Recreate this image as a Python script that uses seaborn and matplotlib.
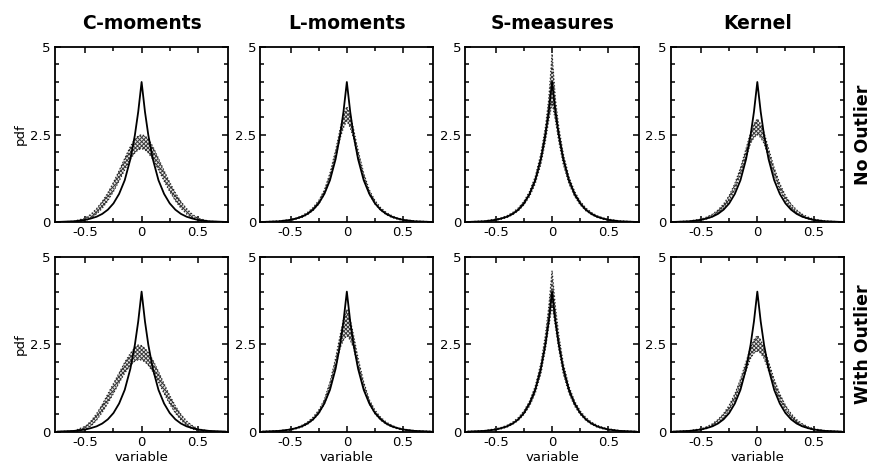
import numpy as np
import pandas as pd
import matplotlib
matplotlib.use('Agg')
import matplotlib.pyplot as plt
import seaborn as sns

x_grid = [-0.75, -0.6, -0.5, -0.45, -0.4, -0.35, -0.3, -0.25, -0.2, -0.15, -0.1, -0.06, -0.03, 0,
          0.03, 0.06, 0.1, 0.15, 0.2, 0.25, 0.3, 0.35, 0.4, 0.45, 0.5, 0.6, 0.75]

# true (Laplace-like) pdf, solid line in every panel
true_pdf = [0.01, 0.03, 0.07, 0.11, 0.16, 0.24, 0.36, 0.54, 0.81, 1.2, 1.8, 2.48, 3.15, 4.0,
            3.15, 2.48, 1.8, 1.2, 0.81, 0.54, 0.36, 0.24, 0.16, 0.11, 0.07, 0.03, 0.01]

methods = ['C-moments', 'L-moments', 'S-measures', 'Kernel']
rows = ['No Outlier', 'With Outlier']

# estimated pdf envelopes (lower / upper), no outlier
cmom_no_lo = [0.0, 0.0, 0.05, 0.12, 0.24, 0.4, 0.62, 0.88, 1.18, 1.5, 1.8, 1.98, 2.07, 2.1,
              2.07, 1.98, 1.8, 1.5, 1.18, 0.88, 0.62, 0.4, 0.24, 0.12, 0.05, 0.0, 0.0]
cmom_no_hi = [0.01, 0.03, 0.12, 0.23, 0.39, 0.59, 0.84, 1.14, 1.47, 1.82, 2.16, 2.37, 2.46, 2.5,
              2.46, 2.37, 2.16, 1.82, 1.47, 1.14, 0.84, 0.59, 0.39, 0.23, 0.12, 0.03, 0.01]
lmom_no_lo = [0.0, 0.02, 0.05, 0.09, 0.14, 0.22, 0.34, 0.52, 0.8, 1.25, 1.85, 2.4, 2.7, 2.9,
              2.7, 2.4, 1.85, 1.25, 0.8, 0.52, 0.34, 0.22, 0.14, 0.09, 0.05, 0.02, 0.0]
lmom_no_hi = [0.015, 0.04, 0.08, 0.12, 0.19, 0.28, 0.42, 0.62, 0.92, 1.4, 2.05, 2.65, 3.05, 3.3,
              3.05, 2.65, 2.05, 1.4, 0.92, 0.62, 0.42, 0.28, 0.19, 0.12, 0.08, 0.04, 0.015]
smea_no_lo = [0.0, 0.02, 0.06, 0.09, 0.14, 0.22, 0.33, 0.5, 0.74, 1.1, 1.65, 2.3, 2.9, 3.4,
              2.9, 2.3, 1.65, 1.1, 0.74, 0.5, 0.33, 0.22, 0.14, 0.09, 0.06, 0.02, 0.0]
smea_no_hi = [0.015, 0.04, 0.09, 0.13, 0.19, 0.28, 0.41, 0.6, 0.88, 1.3, 1.95, 2.7, 3.5, 4.8,
              3.5, 2.7, 1.95, 1.3, 0.88, 0.6, 0.41, 0.28, 0.19, 0.13, 0.09, 0.04, 0.015]
kern_no_lo = [0.0, 0.02, 0.06, 0.1, 0.16, 0.26, 0.4, 0.62, 0.92, 1.35, 1.85, 2.25, 2.42, 2.5,
              2.42, 2.25, 1.85, 1.35, 0.92, 0.62, 0.4, 0.26, 0.16, 0.1, 0.06, 0.02, 0.0]
kern_no_hi = [0.01, 0.04, 0.09, 0.15, 0.23, 0.35, 0.52, 0.76, 1.1, 1.55, 2.1, 2.55, 2.8, 2.95,
              2.8, 2.55, 2.1, 1.55, 1.1, 0.76, 0.52, 0.35, 0.23, 0.15, 0.09, 0.04, 0.01]

# estimated pdf envelopes (lower / upper), with outlier
cmom_out_lo = [0.0, 0.0, 0.07, 0.17, 0.34, 0.56, 0.82, 1.1, 1.4, 1.68, 1.9, 2.02, 2.06, 2.05,
               2.0, 1.9, 1.72, 1.42, 1.1, 0.8, 0.54, 0.34, 0.19, 0.09, 0.03, 0.0, 0.0]
cmom_out_hi = [0.01, 0.03, 0.16, 0.31, 0.52, 0.78, 1.08, 1.38, 1.68, 1.98, 2.24, 2.4, 2.48, 2.46,
               2.38, 2.26, 2.05, 1.72, 1.37, 1.04, 0.74, 0.5, 0.31, 0.18, 0.09, 0.02, 0.01]
lmom_out_lo = [0.0, 0.02, 0.05, 0.09, 0.14, 0.22, 0.34, 0.52, 0.8, 1.25, 1.85, 2.4, 2.62, 2.75,
               2.62, 2.4, 1.85, 1.25, 0.8, 0.52, 0.34, 0.22, 0.14, 0.09, 0.05, 0.02, 0.0]
lmom_out_hi = [0.015, 0.04, 0.08, 0.12, 0.19, 0.28, 0.42, 0.62, 0.92, 1.42, 2.1, 2.75, 3.2, 3.5,
               3.2, 2.75, 2.1, 1.42, 0.92, 0.62, 0.42, 0.28, 0.19, 0.12, 0.08, 0.04, 0.015]
smea_out_lo = [0.0, 0.02, 0.06, 0.09, 0.14, 0.22, 0.33, 0.5, 0.74, 1.1, 1.65, 2.35, 3.0, 3.6,
               3.0, 2.35, 1.65, 1.1, 0.74, 0.5, 0.33, 0.22, 0.14, 0.09, 0.06, 0.02, 0.0]
smea_out_hi = [0.015, 0.04, 0.09, 0.13, 0.19, 0.28, 0.41, 0.6, 0.88, 1.3, 1.95, 2.75, 3.55, 4.6,
               3.55, 2.75, 1.95, 1.3, 0.88, 0.6, 0.41, 0.28, 0.19, 0.13, 0.09, 0.04, 0.015]
kern_out_lo = [0.0, 0.02, 0.06, 0.1, 0.16, 0.26, 0.4, 0.62, 0.9, 1.3, 1.75, 2.1, 2.25, 2.3,
               2.25, 2.1, 1.75, 1.3, 0.9, 0.62, 0.4, 0.26, 0.16, 0.1, 0.06, 0.02, 0.0]
kern_out_hi = [0.01, 0.04, 0.09, 0.15, 0.23, 0.35, 0.52, 0.76, 1.08, 1.5, 2.0, 2.4, 2.62, 2.75,
               2.62, 2.4, 2.0, 1.5, 1.08, 0.76, 0.52, 0.35, 0.23, 0.15, 0.09, 0.04, 0.01]

bands = {
    ('No Outlier', 'C-moments'): (cmom_no_lo, cmom_no_hi),
    ('No Outlier', 'L-moments'): (lmom_no_lo, lmom_no_hi),
    ('No Outlier', 'S-measures'): (smea_no_lo, smea_no_hi),
    ('No Outlier', 'Kernel'): (kern_no_lo, kern_no_hi),
    ('With Outlier', 'C-moments'): (cmom_out_lo, cmom_out_hi),
    ('With Outlier', 'L-moments'): (lmom_out_lo, lmom_out_hi),
    ('With Outlier', 'S-measures'): (smea_out_lo, smea_out_hi),
    ('With Outlier', 'Kernel'): (kern_out_lo, kern_out_hi),
}

sns.set_theme(style='ticks')
plt.rcParams['font.family'] = ['DejaVu Sans']
plt.rcParams['text.color'] = 'black'
plt.rcParams['axes.labelcolor'] = 'black'
plt.rcParams['xtick.color'] = 'black'
plt.rcParams['ytick.color'] = 'black'
plt.rcParams['hatch.linewidth'] = 0.7
plt.rcParams['hatch.color'] = '#3a3a3a'

fig, axes = plt.subplots(2, 4, figsize=(8.8, 4.69), dpi=100)
fig.subplots_adjust(left=0.0625, right=0.959, top=0.9, bottom=0.079, wspace=0.185, hspace=0.195)

true_df = pd.DataFrame({'variable': x_grid, 'pdf': true_pdf})

for i, row in enumerate(rows):
    for j, method in enumerate(methods):
        ax = axes[i, j]
        lo, hi = bands[(row, method)]
        ax.fill_between(x_grid, lo, hi, facecolor='#e6e6e6', edgecolor='#3a3a3a',
                        hatch='xxxxxxxx', linewidth=0)
        ax.plot(x_grid, lo, color='#222222', lw=0.9, ls=':')
        ax.plot(x_grid, hi, color='#222222', lw=0.9, ls=':')
        sns.lineplot(data=true_df, x='variable', y='pdf', ax=ax, color='black', lw=1.3)

        ax.set_xlim(-0.77, 0.77)
        ax.set_ylim(0, 5)
        ax.set_xticks([-0.5, 0, 0.5])
        ax.set_xticklabels(['-0.5', '0', '0.5'])
        ax.set_xticks([-0.25, 0.25], minor=True)
        ax.set_yticks([0, 2.5, 5])
        ax.set_yticklabels(['0', '2.5', '5'])
        ax.set_yticks(np.arange(0.5, 5, 0.5), minor=True)
        ax.tick_params(which='both', direction='in', top=True, right=True,
                       labelsize=9.5, pad=3)
        ax.tick_params(which='major', length=4, width=1.1)
        ax.tick_params(which='minor', length=3, width=1.1)
        for s in ax.spines.values():
            s.set_linewidth(1.3)
            s.set_color('black')

        ax.set_xlabel('variable' if i == 1 else '', fontsize=9.5, labelpad=1)
        ax.set_ylabel('pdf' if j == 0 else '', fontsize=9.5, labelpad=2)
        if i == 0:
            ax.set_title(method, fontsize=13.5, fontweight='bold', pad=13)

    axes[i, 3].annotate(row, xy=(1.11, 0.5), xycoords='axes fraction', rotation=90,
                        ha='center', va='center', fontsize=12.5, fontweight='bold')

fig.savefig('out.png', dpi=100)
